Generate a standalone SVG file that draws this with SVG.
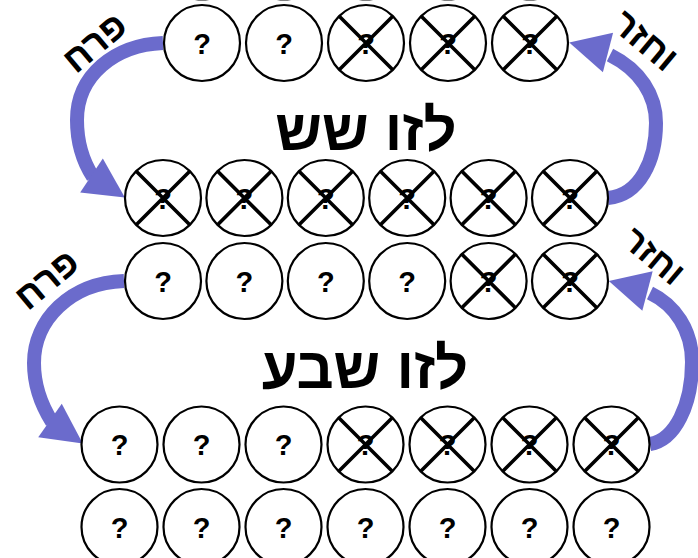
<svg xmlns="http://www.w3.org/2000/svg" width="698" height="558" viewBox="0 0 698 558">
<style>
.c{fill:#fff;stroke:#000;stroke-width:2.2}
.q{font-family:"Liberation Sans",Arial,sans-serif;font-weight:bold;font-size:29px;text-anchor:middle;fill:#000}
.x{stroke:#000;stroke-width:3.6;fill:none}
.arr{fill:none;stroke:#6b6bcc;stroke-width:14}
.ah{fill:#6b6bcc}
.big{font-family:"Liberation Sans",Arial,sans-serif;font-weight:bold;font-size:58px;text-anchor:middle;fill:#000}
.lbl{font-family:"Liberation Sans",Arial,sans-serif;font-weight:bold;font-size:37px;text-anchor:middle;fill:#000}
</style>
<defs>
<polygon id="head" points="0,-20.5 40,0 0,20.5"/>
<path id="xm" d="M-27,-27 L27,27 M27,-27 L-27,27"/>
</defs>
<g id="row0">
<circle class="c" cx="202" cy="-38.5" r="38"/>
<circle class="c" cx="284" cy="-38.5" r="38"/>
<circle class="c" cx="366" cy="-38.5" r="38"/>
<circle class="c" cx="448" cy="-38.5" r="38"/>
<circle class="c" cx="530" cy="-38.5" r="38"/>
</g>
<g id="connectors">
<path class="arr" d="M163,43 C115,45 77,75 77,120 C77,142 82,160 93,177"/>
<use href="#head" class="ah" transform="translate(91.5,175.5) rotate(33.5)"/>
<path class="arr" d="M608,198 C640,195 656,160 656,123 C656,95 640,70 610,55"/>
<use href="#head" class="ah" transform="translate(608,52.5) rotate(194.4)"/>
<path class="arr" d="M124,281 C70,283 34,320 34,363 C34,385 40,403 52,422"/>
<use href="#head" class="ah" transform="translate(50,420.5) rotate(35)"/>
<path class="arr" d="M650,444 C675,440 692,405 692,362 C692,330 675,305 650,293"/>
<use href="#head" class="ah" transform="translate(647.5,291) rotate(194.6)"/>
</g>
<g id="r1n1"><circle class="c" cx="202" cy="43" r="38"/><text class="q" x="202" y="53.5">?</text></g>
<g id="r1n2"><circle class="c" cx="284" cy="43" r="38"/><text class="q" x="284" y="53.5">?</text></g>
<g id="r1n3"><circle class="c" cx="366" cy="43" r="38"/><text class="q" x="366" y="53.5">?</text><use href="#xm" class="x" transform="translate(366,43)"/></g>
<g id="r1n4"><circle class="c" cx="448" cy="43" r="38"/><text class="q" x="448" y="53.5">?</text><use href="#xm" class="x" transform="translate(448,43)"/></g>
<g id="r1n5"><circle class="c" cx="530" cy="43" r="38"/><text class="q" x="530" y="53.5">?</text><use href="#xm" class="x" transform="translate(530,43)"/></g>

<g id="r2n1"><circle class="c" cx="163" cy="198" r="38"/><text class="q" x="163" y="208.5">?</text><use href="#xm" class="x" transform="translate(163,198)"/></g>
<g id="r2n2"><circle class="c" cx="244.4" cy="198" r="38"/><text class="q" x="244.4" y="208.5">?</text><use href="#xm" class="x" transform="translate(244.4,198)"/></g>
<g id="r2n3"><circle class="c" cx="325.8" cy="198" r="38"/><text class="q" x="325.8" y="208.5">?</text><use href="#xm" class="x" transform="translate(325.8,198)"/></g>
<g id="r2n4"><circle class="c" cx="407.2" cy="198" r="38"/><text class="q" x="407.2" y="208.5">?</text><use href="#xm" class="x" transform="translate(407.2,198)"/></g>
<g id="r2n5"><circle class="c" cx="488.6" cy="198" r="38"/><text class="q" x="488.6" y="208.5">?</text><use href="#xm" class="x" transform="translate(488.6,198)"/></g>
<g id="r2n6"><circle class="c" cx="570" cy="198" r="38"/><text class="q" x="570" y="208.5">?</text><use href="#xm" class="x" transform="translate(570,198)"/></g>

<g id="r3n1"><circle class="c" cx="163" cy="281" r="38"/><text class="q" x="163" y="291.5">?</text></g>
<g id="r3n2"><circle class="c" cx="244.4" cy="281" r="38"/><text class="q" x="244.4" y="291.5">?</text></g>
<g id="r3n3"><circle class="c" cx="325.8" cy="281" r="38"/><text class="q" x="325.8" y="291.5">?</text></g>
<g id="r3n4"><circle class="c" cx="407.2" cy="281" r="38"/><text class="q" x="407.2" y="291.5">?</text></g>
<g id="r3n5"><circle class="c" cx="488.6" cy="281" r="38"/><text class="q" x="488.6" y="291.5">?</text><use href="#xm" class="x" transform="translate(488.6,281)"/></g>
<g id="r3n6"><circle class="c" cx="570" cy="281" r="38"/><text class="q" x="570" y="291.5">?</text><use href="#xm" class="x" transform="translate(570,281)"/></g>

<g id="r4n1"><circle class="c" cx="119.5" cy="444.5" r="38"/><text class="q" x="119.5" y="455">?</text></g>
<g id="r4n2"><circle class="c" cx="201.5" cy="444.5" r="38"/><text class="q" x="201.5" y="455">?</text></g>
<g id="r4n3"><circle class="c" cx="283.5" cy="444.5" r="38"/><text class="q" x="283.5" y="455">?</text></g>
<g id="r4n4"><circle class="c" cx="365.5" cy="444.5" r="38"/><text class="q" x="365.5" y="455">?</text><use href="#xm" class="x" transform="translate(365.5,444.5)"/></g>
<g id="r4n5"><circle class="c" cx="447.5" cy="444.5" r="38"/><text class="q" x="447.5" y="455">?</text><use href="#xm" class="x" transform="translate(447.5,444.5)"/></g>
<g id="r4n6"><circle class="c" cx="529.5" cy="444.5" r="38"/><text class="q" x="529.5" y="455">?</text><use href="#xm" class="x" transform="translate(529.5,444.5)"/></g>
<g id="r4n7"><circle class="c" cx="611.5" cy="444.5" r="38"/><text class="q" x="611.5" y="455">?</text><use href="#xm" class="x" transform="translate(611.5,444.5)"/></g>

<g id="r5n1"><circle class="c" cx="119.5" cy="527" r="38"/><text class="q" x="119.5" y="537.5">?</text></g>
<g id="r5n2"><circle class="c" cx="201.5" cy="527" r="38"/><text class="q" x="201.5" y="537.5">?</text></g>
<g id="r5n3"><circle class="c" cx="283.5" cy="527" r="38"/><text class="q" x="283.5" y="537.5">?</text></g>
<g id="r5n4"><circle class="c" cx="365.5" cy="527" r="38"/><text class="q" x="365.5" y="537.5">?</text></g>
<g id="r5n5"><circle class="c" cx="447.5" cy="527" r="38"/><text class="q" x="447.5" y="537.5">?</text></g>
<g id="r5n6"><circle class="c" cx="529.5" cy="527" r="38"/><text class="q" x="529.5" y="537.5">?</text></g>
<g id="r5n7"><circle class="c" cx="611.5" cy="527" r="38"/><text class="q" x="611.5" y="537.5">?</text></g>

<g id="titles">
<text class="big" x="366" y="150" direction="rtl">לזו שש</text>
<text class="big" x="365" y="388" direction="rtl">לזו שבע</text>
</g>
<g id="labels">
<text class="lbl" transform="translate(95,43) rotate(-40)" y="12" direction="rtl">פרח</text>
<text class="lbl" transform="translate(645,41) rotate(40)" y="12" direction="rtl">וחזר</text>
<text class="lbl" transform="translate(47,280) rotate(-40)" y="12" direction="rtl">פרח</text>
<text class="lbl" transform="translate(654,256) rotate(40)" y="12" direction="rtl" style="font-size:35px">וחזר</text>
</g>
</svg>
